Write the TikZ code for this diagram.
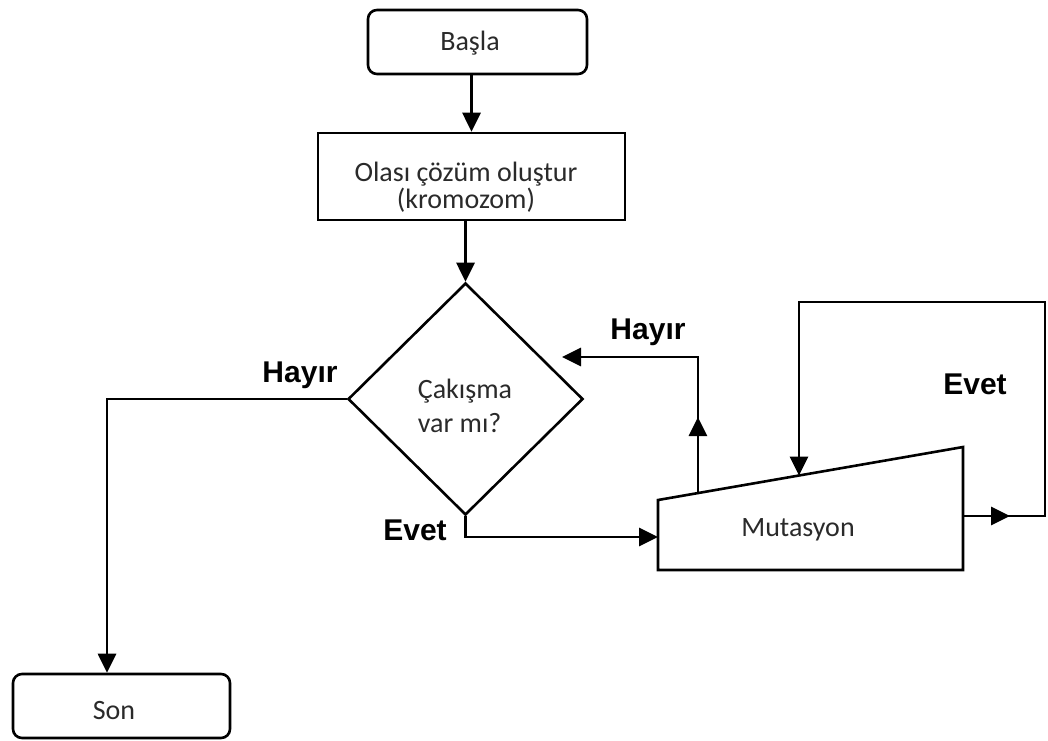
\documentclass[tikz,border=0pt]{standalone}
\usepackage{fontspec}
\setmainfont{Carlito}
\newfontfamily\labfont{Liberation Sans}
\usetikzlibrary{arrows.meta,shapes.geometric,calc,decorations.markings}
\definecolor{txtgray}{HTML}{2A2A2A}
\begin{document}
\begin{tikzpicture}[x=1pt,y=-1pt,
  conn/.style={line width=2.8pt},
  tip/.style={-{Triangle[length=19pt,width=18pt]}},
  midarrow/.style={postaction={decorate},decoration={markings,
      mark=at position #1 with {\arrow{Triangle[length=19pt,width=18pt]}}}},
  termbox/.style={draw,line width=2.6pt,rounded corners=9pt,inner sep=0pt},
  procbox/.style={draw,line width=2.6pt,inner sep=0pt},
  decbox/.style={draw,diamond,line width=2.6pt,inner sep=0pt},
  plain/.style={text=txtgray,font=\fontsize{28}{28}\selectfont,inner sep=0pt},
  lbl/.style={font=\labfont\bfseries\fontsize{30}{32}\selectfont,inner sep=0pt},
]
\useasboundingbox (0,0) rectangle (1048,740);

% shapes
\node[termbox,minimum width=219pt,minimum height=64pt] (start) at (477.5,42) {};
\node[procbox,minimum width=307pt,minimum height=87pt] (gen) at (471.5,176.5) {};
\node[decbox,minimum width=235pt,minimum height=232pt] (dia) at (465.5,399) {};
\node[termbox,minimum width=217pt,minimum height=64pt] (son) at (121.5,706) {};

% Mutasyon trapezoid
\coordinate (mTL) at (658,500);
\coordinate (mTR) at (963,447);
\coordinate (mBR) at (963,570);
\coordinate (mBL) at (658,570);
\draw[line width=2.6pt,line join=miter] (mTL) -- (mTR) -- (mBR) -- (mBL) -- cycle;

% texts
\node[plain] (startT) at (470,43) {Başla};
\node[plain,align=center,font=\fontsize{28}{27}\selectfont] (genT) at (466,187)
  {Olası çözüm oluştur\\(kromozom)};
\node[plain,align=left,font=\fontsize{28}{34}\selectfont] (diaT) at (465,406)
  {Çakışma\\var mı?};
\node[plain] (sonT) at (114,710) {Son};
\node[plain] (mut) at (798,530) {Mutasyon};

% helper coordinates
\coordinate (mIn) at (658,537);
\coordinate (hS) at ($(mTL)!0.131!(mTR)$);
\coordinate (hE) at (562,357);
\coordinate (lS) at (963,516);
\coordinate (lc1) at (1045,302);
\coordinate (lE) at ($(mTL)!0.4623!(mTR)$);
\coordinate (sonIn) at ($(son.north)+(-14.5,0)$);

% connectors
\draw[conn,tip] (start.south -| gen.north) -- (gen.north);
\draw[conn,tip] (gen.south -| dia.north) -- (dia.north);
\draw[conn,tip] (dia.west) -| (sonIn);
\draw[conn,tip] (dia.south) |- (mIn);
\draw[conn,tip,midarrow=76pt] (hS) |- (hE);
\draw[conn,tip,midarrow=47pt] (lS) -| (lc1) -| (lE);

% labels
\node[lbl] (lh1) at (300,375) {Hayır};
\node[lbl] (lh2) at (648,332) {Hayır};
\node[lbl] (le1) at (415,530) {Evet};
\node[lbl] (le2) at (975,384) {Evet};
\end{tikzpicture}
\end{document}
